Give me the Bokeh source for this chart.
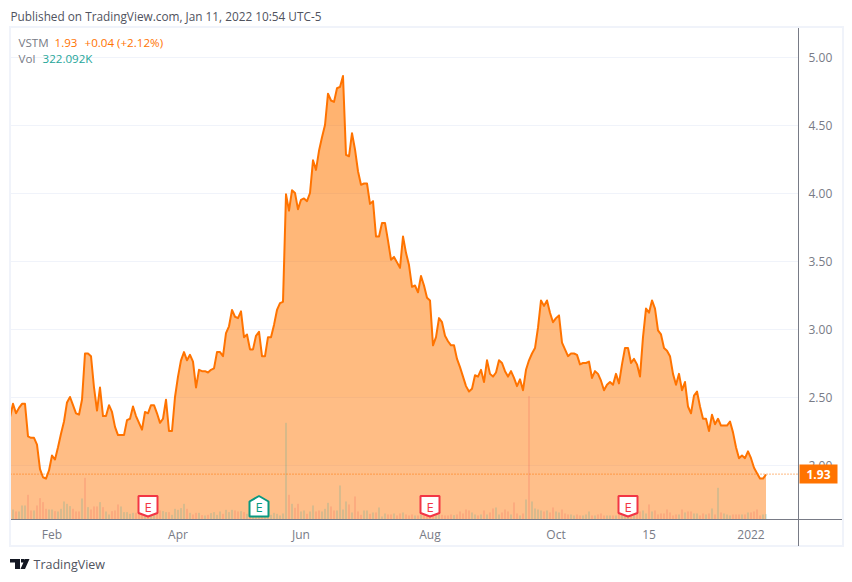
from bokeh.plotting import figure
from bokeh.models import (Range1d, LinearAxis, FixedTicker, Label, Span, NumeralTickFormatter, InlineStyleSheet)
from bokeh.embed import file_html
from bokeh.resources import INLINE
import numpy as np

close = [
2.35,2.45,2.38,2.42,2.45,2.45,2.21,2.20,2.20,2.15,
1.97,1.91,1.90,1.96,2.07,2.04,2.13,2.23,2.32,2.46,
2.50,2.44,2.38,2.37,2.48,2.82,2.82,2.80,2.57,2.40,
2.57,2.36,2.36,2.44,2.39,2.28,2.22,2.22,2.22,2.33,
2.34,2.43,2.36,2.31,2.26,2.39,2.38,2.44,2.44,2.38,
2.31,2.34,2.48,2.25,2.25,2.50,2.65,2.77,2.83,2.77,
2.81,2.76,2.57,2.70,2.69,2.69,2.68,2.70,2.71,2.83,
2.83,2.80,2.97,3.02,3.14,3.09,3.08,3.13,2.94,2.96,
2.85,2.85,2.95,2.98,2.80,2.80,2.94,2.94,3.03,3.14,
3.19,
3.20,3.99,3.87,4.02,4.00,3.88,3.95,3.96,3.94,4.00,
4.24,4.17,4.31,4.41,4.50,4.73,4.68,4.67,4.77,4.78,
4.86,4.28,4.27,4.44,4.32,4.16,4.06,4.07,4.07,3.92,
3.94,3.68,3.68,3.78,3.78,
3.65,3.51,3.53,3.49,3.45,3.68,3.56,3.47,3.31,3.32,
3.27,3.39,3.32,3.23,3.21,2.88,2.94,3.08,3.05,2.95,
2.91,2.88,2.88,2.78,2.72,2.65,2.58,2.54,2.56,2.66,
2.65,2.70,2.61,2.77,2.67,2.65,2.68,2.77,2.75,2.69,
2.65,2.69,2.64,2.58,2.63,2.55,2.70,2.77,2.82,2.86,
3.01,3.21,3.17,3.21,3.12,3.05,3.08,3.10,2.90,2.85,
2.80,2.82,2.82,2.81,2.74,2.75,2.75,2.76,2.64,2.69,
2.67,2.62,2.55,2.59,2.61,2.59,2.67,2.60,2.74,
2.86,2.86,2.75,2.78,2.74,2.65,2.94,3.15,3.12,3.21,
3.15,2.99,2.96,2.86,2.84,2.80,2.67,2.59,2.67,2.55,
2.61,2.43,2.38,2.51,2.54,2.43,2.34,2.34,2.25,2.37,
2.30,2.34,2.29,2.29,2.29,2.32,2.24,2.13,2.05,2.07,
2.05,2.10,2.05,1.98,1.94,1.90,1.90,1.93,
]
volume_k = [
500,600,480,480,840,840,1480,540,540,840,1280,1040,640,600,600,500,480,640,1080,940,800,640,480,480,1260,2500,740,600,780,780,1040,740,480,300,500,540,900,780,440,440,340,400,
400,360,300,300,280,300,320,400,
540,500,440,440,280,640,580,680,940,640,
400,300,400,400,260,240,280,380,440,280,
480,340,580,440,580,540,480,500,440,340,
180,180,180,180,240,280,180,280,400,340,
240,360,5800,
1480,940,700,940,480,540,340,480,
840,480,540,480,640,1000,780,540,540,2040,
600,1080,900,420,1380,480,280,540,540,340,
420,420,720,180,360,300,300,360,240,360,
420,300,240,300,240,240,280,260,240,240,
260,260,300,280,240,240,300,260,300,480,
360,600,540,420,300,240,300,540,300,420,
660,720,300,420,600,480,300,1020,360,240,
360,1200,7400,1080,660,600,540,480,540,420,
720,480,420,
600,360,300,300,240,300,240,240,300,480,240,240,300,360,240,240,240,240,240,360,
480,340,240,240,300,360,480,540,360,900,480,540,300,360,360,600,420,240,300,300,
600,420,480,480,360,360,240,360,300,360,660,300,
1900,420,360,300,240,300,300,300,300,300,420,420,480,600,240,300,322,
]
bar_down = [6, 10, 25, 93, 95, 96, 103, 113, 115, 168, 173]
bar_up = [4, 5, 18, 19, 24, 92, 94, 110, 112, 172, 174, 236]
price_ticks = [2.0, 2.5, 3.0, 3.5, 4.0, 4.5, 5.0]
time_ticks = {14: "Feb", 56: "Apr", 97: "Jun", 140: "Aug", 182: "Oct", 213: "15", 247: "2022"}
earn_down = [46, 140, 206]
earn_up = [83]
last_price = 1.933

assert len(close) == len(volume_k) == 253, (len(close), len(volume_k))

ORANGE = "#ff7300"
GREY = "#787b86"
FONT = "Open Sans"
W, H = 852, 582

L, R, T, B = 10, 798, 27, 519
STEP = 3.0
X0 = 9.5
Y5 = 56.5

# chart pane frame, the axis lines below the frame and the logo are page decoration
chrome = InlineStyleSheet(css=f"""
:host::after {{
  content: ""; position: absolute; left: 0; top: 0; width: {W}px; height: {H}px; pointer-events: none;
  background-repeat: no-repeat;
  background-image:
    linear-gradient(#787b86,#787b86), linear-gradient(#787b86,#787b86),
    linear-gradient(#f0f3fa,#f0f3fa), linear-gradient(#f0f3fa,#f0f3fa),
    linear-gradient(#f0f3fa,#f0f3fa), linear-gradient(#f0f3fa,#f0f3fa);
  background-size: 1px 27px, 44px 1px, 2px 521px, 835px 2px, 2px 521px, 835px 2px;
  background-position: 798px 519px, 798px 519px, 9px 26px, 9px 26px, 842px 26px, 9px 545px;
}}
:host::before {{
  content: ""; position: absolute; left: 0; top: 0; width: {W}px; height: {H}px; pointer-events: none;
  z-index: 5; background: #131722;
  clip-path: path('M10 559H20V569H15V562.5H10Z M21 559h3.5v3.5H21Z M25 559h4.5L25 569h-4.5Z');
}}
""")

p = figure(width=W, height=H, output_backend="svg", toolbar_location=None,
           x_range=Range1d((L - X0) / STEP, (R - X0) / STEP),
           y_range=Range1d(5 - (B - Y5) / 136, 5 + (Y5 - T) / 136),
           min_border_left=L, min_border_right=W - R, min_border_top=T,
           min_border_bottom=H - B, background_fill_color="white", border_fill_color="white",
           stylesheets=[chrome])
p.outline_line_color = None
p.xgrid.visible = False
p.ygrid.ticker = FixedTicker(ticks=price_ticks)
p.ygrid.grid_line_color = "#f0f3fa"
p.yaxis.visible = False
p.xaxis.visible = False

vol_per_px = 60.0
p.extra_y_ranges = {"vol": Range1d(0, vol_per_px * (B - T))}

bottom = LinearAxis(ticker=FixedTicker(ticks=list(time_ticks)), major_label_overrides=time_ticks,
                    major_tick_line_color=None, minor_tick_line_color=None, axis_line_color=GREY,
                    major_label_text_color=GREY, major_label_text_font=FONT,
                    major_label_text_font_size="12px", major_label_standoff=0)
p.add_layout(bottom, "below")
right = LinearAxis(ticker=FixedTicker(ticks=price_ticks), formatter=NumeralTickFormatter(format="0.00"),
                   major_tick_line_color=None, minor_tick_line_color=None, axis_line_color=GREY,
                   major_label_text_color=GREY, major_label_text_font=FONT,
                   major_label_text_font_size="12px", major_label_standoff=4)
p.add_layout(right, "right")

x = np.arange(len(close))
c = np.array(close)
base = p.y_range.start

p.varea(x, y1=base, y2=c, fill_color=ORANGE, fill_alpha=0.46)
for lvl in [2.0, 2.5, 3.0, 3.5, 4.0, 4.5]:
    p.varea(x, y1=np.minimum(c, lvl), y2=c, fill_color=ORANGE, fill_alpha=0.03)
p.line(x, c, line_color=ORANGE, line_width=2, line_join="round")

prev = np.r_[c[0], c[:-1]]
cols = ["#26a69a" if a >= b else "#ef5350" for a, b in zip(c, prev)]
for i in bar_down:
    cols[i] = "#ef5350"
for i in bar_up:
    cols[i] = "#26a69a"
p.segment(x, 0, x, volume_k, y_range_name="vol", line_color=cols, line_alpha=0.36, line_width=1)

p.add_layout(Span(location=last_price, dimension="width", line_color=ORANGE, line_width=1, line_dash="1 2"))

def shield(i, up):
    dx = 9.5 / STEP
    v = vol_per_px
    b, m1, m2, t = 3 * v, 6.5 * v, 18 * v, 23.5 * v
    if up:
        return [i - dx, i + dx, i + dx, i, i - dx], [b, b, m2, t, m2]
    return [i - dx, i + dx, i + dx, i, i - dx], [t, t, m1, b, m1]

for idx, up in [(i, False) for i in earn_down] + [(i, True) for i in earn_up]:
    xs, ys = shield(idx, up)
    col = "#089981" if up else "#f23645"
    p.patch(xs, ys, y_range_name="vol", fill_color="white", line_color=col, line_width=2)
    p.text([idx], [13 * vol_per_px], text=["E"], y_range_name="vol", text_color=col, text_align="center",
           text_baseline="middle", text_font_size="13px", text_font={"value": FONT})

def lab(txt, px, py, color, size="11.6px", style="normal", align="left", side="center", **kw):
    p.add_layout(Label(x=px, y=py, x_units="canvas", y_units="canvas", text=txt, text_color=color,
                       text_font=FONT, text_font_size=size, text_font_style=style, text_align=align,
                       text_baseline="middle", level="overlay", **kw), side)

lab("Published on TradingView.com, Jan 11, 2022 10:54 UTC-5", 10, 15, "#50535e", size="11.8px", side="below")
lab("VSTM", 18, 42, GREY)
lab("1.93", 54, 42, ORANGE)
lab("+0.04 (+2.12%)", 84, 42, ORANGE)
lab("Vol", 18, 58, GREY)
lab("322.092K", 42, 58, "#26a69a")
lab("TradingView", 33, 564, "#50535e", size="12.5px", side="below")
lab("1.93", 818, 473.5, "white", size="12px", style="bold", align="center", side="above",
    background_fill_color=ORANGE, padding=(7, 5))

open("out.html", "w").write(file_html(p, INLINE))
